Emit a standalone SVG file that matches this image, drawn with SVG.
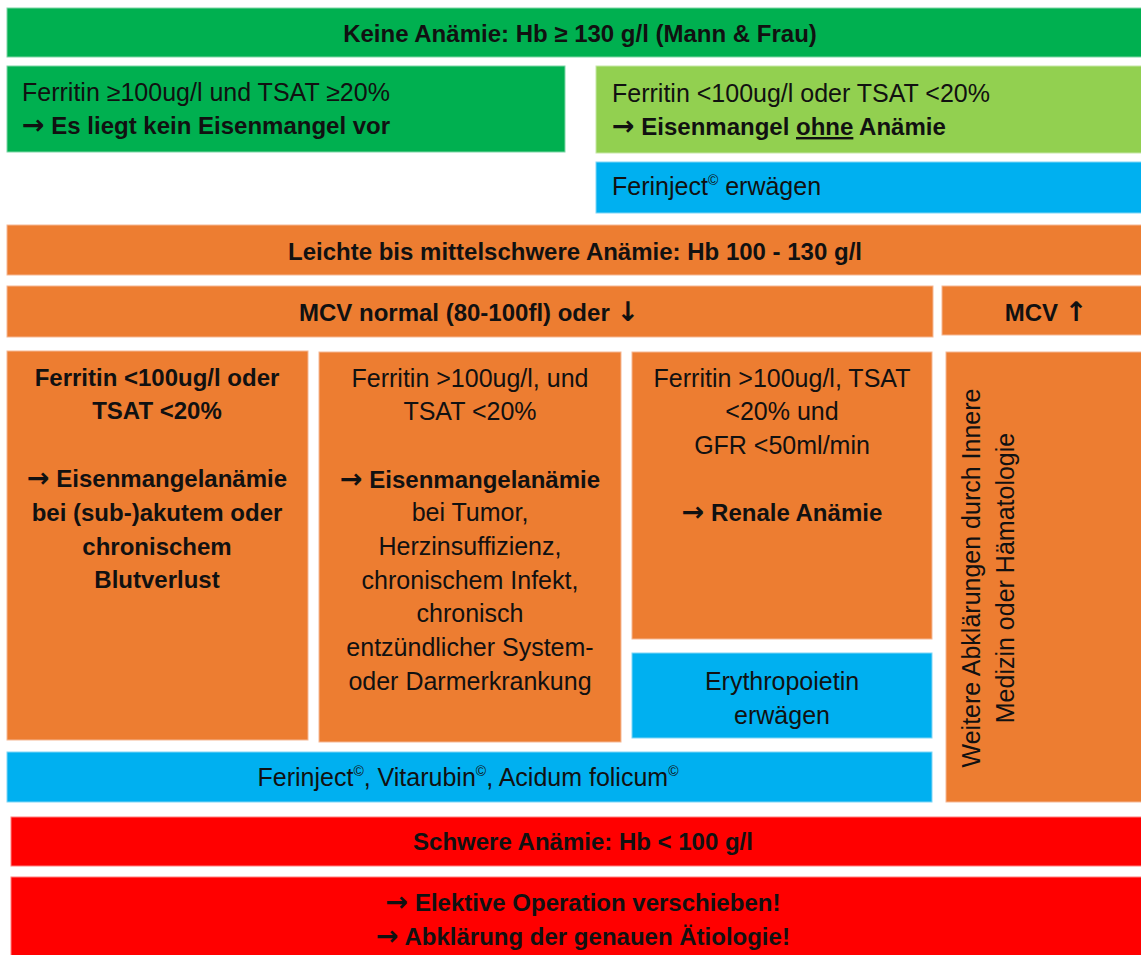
<svg xmlns="http://www.w3.org/2000/svg" width="1141" height="955" viewBox="0 0 1141 955">
<style>
text{font-family:"Liberation Sans",Arial,sans-serif;fill:#111;}
.r{font-size:25px;}
.b{font-size:24px;font-weight:bold;}
.c{text-anchor:middle;}
.arr{font-family:"DejaVu Sans",sans-serif;font-weight:bold;font-size:27px;}
.green{fill:#00B050;stroke:#7fd6a6;stroke-width:1;}
.lgreen{fill:#92D050;stroke:#c6e7a6;stroke-width:1;}
.blue{fill:#00B0F0;stroke:#80d6f6;stroke-width:1;}
.orange{fill:#ED7D31;stroke:#f5b894;stroke-width:1;}
.red{fill:#FF0000;stroke:#ff8080;stroke-width:1;}
.sup{font-size:14px;}
</style>
<rect width="1141" height="955" fill="#fff"/>
<g id="keine-anaemie">
<rect class="green" x="7" y="8" width="1140" height="49"/>
<text class="b c" x="580" y="42">Keine Anämie: Hb ≥ 130 g/l (Mann &amp; Frau)</text>
</g>
<g id="kein-eisenmangel">
<rect class="green" x="7" y="66" width="558" height="86"/>
<text class="r" x="22" y="101">Ferritin ≥100ug/l und TSAT ≥20%</text>
<text class="b" x="22" y="134"><tspan class="arr">→</tspan> Es liegt kein Eisenmangel vor</text>
</g>
<g id="eisenmangel-ohne-anaemie">
<rect class="lgreen" x="596" y="66" width="550" height="87"/>
<text class="r" x="612" y="102">Ferritin &lt;100ug/l oder TSAT &lt;20%</text>
<text class="b" x="612" y="135"><tspan class="arr">→</tspan> Eisenmangel <tspan text-decoration="underline">ohne</tspan> Anämie</text>
</g>
<g id="ferinject-erwaegen">
<rect class="blue" x="596" y="162" width="550" height="51"/>
<text class="r" x="612" y="195">Ferinject<tspan class="sup" dy="-10">©</tspan><tspan dy="10"> erwägen</tspan></text>
</g>
<g id="leichte-anaemie">
<rect class="orange" x="7" y="225" width="1140" height="50"/>
<text class="b c" x="575" y="260">Leichte bis mittelschwere Anämie: Hb 100 - 130 g/l</text>
</g>
<g id="mcv-normal">
<rect class="orange" x="7" y="286" width="926" height="51"/>
<text class="b c" x="469" y="321">MCV normal (80-100fl) oder <tspan class="arr">↓</tspan></text>
</g>
<g id="mcv-hoch">
<rect class="orange" x="942" y="286" width="205" height="49"/>
<text class="b c" x="1046" y="321">MCV <tspan class="arr">↑</tspan></text>
</g>
<g id="blutverlust">
<rect class="orange" x="7" y="351" width="301" height="389"/>
<text class="b c" x="157" y="386">Ferritin &lt;100ug/l oder</text>
<text class="b c" x="157" y="419">TSAT &lt;20%</text>
<text class="b c" x="157" y="487"><tspan class="arr">→</tspan> Eisenmangelanämie</text>
<text class="b c" x="157" y="521">bei (sub-)akutem oder</text>
<text class="b c" x="157" y="555">chronischem</text>
<text class="b c" x="157" y="588">Blutverlust</text>
</g>
<g id="tumor-infekt">
<rect class="orange" x="319" y="352" width="302" height="390"/>
<text class="r c" x="470" y="387">Ferritin &gt;100ug/l, und</text>
<text class="r c" x="470" y="420">TSAT &lt;20%</text>
<text class="b c" x="470" y="488"><tspan class="arr">→</tspan> Eisenmangelanämie</text>
<text class="r c" x="470" y="521">bei Tumor,</text>
<text class="r c" x="470" y="555">Herzinsuffizienz,</text>
<text class="r c" x="470" y="589">chronischem Infekt,</text>
<text class="r c" x="470" y="622">chronisch</text>
<text class="r c" x="470" y="656">entzündlicher System-</text>
<text class="r c" x="470" y="690">oder Darmerkrankung</text>
</g>
<g id="renale-anaemie">
<rect class="orange" x="632" y="352" width="300" height="287"/>
<text class="r c" x="782" y="387">Ferritin &gt;100ug/l, TSAT</text>
<text class="r c" x="782" y="420">&lt;20% und</text>
<text class="r c" x="782" y="454">GFR &lt;50ml/min</text>
<text class="b c" x="782" y="521"><tspan class="arr">→</tspan> Renale Anämie</text>
</g>
<g id="erythropoietin">
<rect class="blue" x="632" y="653" width="300" height="85"/>
<text class="r c" x="782" y="690">Erythropoietin</text>
<text class="r c" x="782" y="724">erwägen</text>
</g>
<g id="ferinject-vitarubin">
<rect class="blue" x="7" y="752" width="925" height="50"/>
<text class="r c" x="468" y="786">Ferinject<tspan class="sup" dy="-10">©</tspan><tspan dy="10">, Vitarubin</tspan><tspan class="sup" dy="-10">©</tspan><tspan dy="10">, Acidum folicum</tspan><tspan class="sup" dy="-10">©</tspan></text>
</g>
<g id="weitere-abklaerungen">
<rect class="orange" x="946" y="352" width="201" height="450"/>
<g transform="translate(980,578) rotate(-90)">
<text class="r c" x="0" y="0">Weitere Abklärungen durch Innere</text>
<text class="r c" x="0" y="34">Medizin oder Hämatologie</text>
</g>
</g>
<g id="schwere-anaemie">
<rect class="red" x="11" y="817" width="1136" height="49"/>
<text class="b c" x="583" y="850">Schwere Anämie: Hb &lt; 100 g/l</text>
</g>
<g id="massnahmen">
<rect class="red" x="11" y="877" width="1136" height="85"/>
<text class="b c" x="583" y="911"><tspan class="arr">→</tspan> Elektive Operation verschieben!</text>
<text class="b c" x="583" y="945"><tspan class="arr">→</tspan> Abklärung der genauen Ätiologie!</text>
</g>
<g id="connectors"></g>
</svg>
